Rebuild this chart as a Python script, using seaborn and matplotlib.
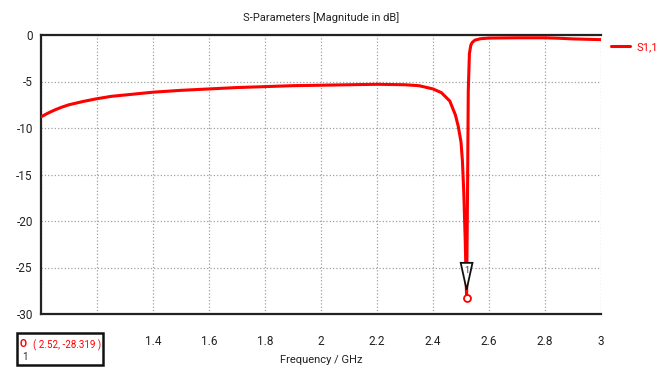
import matplotlib
matplotlib.use("Agg")
import matplotlib.pyplot as plt
import seaborn as sns
import pandas as pd
from matplotlib.patches import Rectangle, Polygon

# ---- data ----
freq = [1.0, 1.025, 1.05, 1.075, 1.1, 1.15, 1.2, 1.25, 1.3, 1.4, 1.5, 1.6, 1.7, 1.8,
        1.9, 2.0, 2.1, 2.2, 2.3, 2.35, 2.4, 2.43, 2.46, 2.48, 2.49, 2.5, 2.505,
        2.51, 2.515, 2.52, 2.523, 2.526, 2.53, 2.535, 2.54, 2.55, 2.57, 2.6, 2.7,
        2.8, 2.85, 2.9, 3.0]
s11 = [-8.8, -8.4, -8.05, -7.75, -7.5, -7.15, -6.85, -6.6, -6.45, -6.15, -5.95, -5.8,
       -5.65, -5.55, -5.45, -5.4, -5.35, -5.3, -5.35, -5.45, -5.8, -6.2, -7.1, -8.6,
       -9.8, -11.5, -13.5, -17.0, -22.0, -28.319, -18.0, -6.0, -2.0, -1.1, -0.8,
       -0.55, -0.4, -0.33, -0.3, -0.3, -0.35, -0.42, -0.5]
marker_freq = 2.52
marker_val = -28.319
xticks = [1.0, 1.2, 1.4, 1.6, 1.8, 2.0, 2.2, 2.4, 2.6, 2.8, 3.0]
xtick_labels = ["", "", "1.4", "1.6", "1.8", "2", "2.2", "2.4", "2.6", "2.8", "3"]
yticks = [-30, -25, -20, -15, -10, -5, 0]
ytick_labels = ["-30", "-25", "-20", "-15", "-10", "-5", "0"]

df = pd.DataFrame({"Frequency": freq, "S1,1": s11})

sns.set_style("white")
plt.rcParams["font.family"] = ["Roboto", "DejaVu Sans"]
plt.rcParams["axes.unicode_minus"] = False

fig = plt.figure(figsize=(6.68, 3.69), dpi=100)
ax = fig.add_axes([41 / 668, 1 - 314 / 369, 560 / 668, 279 / 369])

sns.lineplot(data=df, x="Frequency", y="S1,1", ax=ax, color="#ff0000",
             linewidth=2.2, label="S1,1", zorder=3)

ax.set_xlim(1.0, 3.0)
ax.set_ylim(-30, 0)
ax.set_xticks(xticks)
ax.set_xticklabels(xtick_labels)
ax.set_yticks(yticks)
ax.set_yticklabels(ytick_labels)
ax.grid(True, linestyle=":", color="#a0a0a0", linewidth=0.9)
ax.tick_params(axis="both", direction="out", length=4, width=1, color="#333333",
               labelsize=8.5, pad=2, labelcolor="#222222")
ax.tick_params(axis="x", pad=11)

for side in ["left", "bottom", "top"]:
    ax.spines[side].set_visible(True)
    ax.spines[side].set_color("#222222")
    ax.spines[side].set_linewidth(1.6)
ax.spines["right"].set_visible(False)

ax.set_xlabel("Frequency / GHz", fontsize=8, labelpad=5, color="#222222")
ax.set_ylabel("")
ax.set_title("S-Parameters [Magnitude in dB]", fontsize=8, pad=10, color="#222222")

leg = ax.legend(loc="upper left", bbox_to_anchor=(1.018, 0.975), frameon=False,
                handlelength=1.7, fontsize=8, borderaxespad=0, handletextpad=0.6,
                borderpad=0)
for t in leg.get_texts():
    t.set_color("#ff0000")

# marker triangle with "1" and red circle at the minimum
tri = Polygon([[marker_freq - 0.021, -24.5], [marker_freq + 0.021, -24.5],
               [marker_freq, -27.4]], closed=True, facecolor="white",
              edgecolor="#111111", linewidth=1.3, zorder=5)
ax.add_patch(tri)
ax.text(marker_freq, -25.3, "1", ha="center", va="center", fontsize=6.5, zorder=6,
        color="#333333")
ax.plot([marker_freq], [marker_val], marker="o", markersize=5, markerfacecolor="white",
        markeredgecolor="#ff0000", markeredgewidth=1.3, zorder=6)

# marker readout box below the axes
box = Rectangle((17 / 668, 1 - 365 / 369), 86 / 668, 32 / 369, transform=fig.transFigure,
                facecolor="white", edgecolor="#111111", linewidth=1.8, zorder=10)
fig.add_artist(box)
fig.text(23 / 668, 1 - 344 / 369, "O", color="#ff0000", fontsize=7.5, fontweight="bold",
         ha="center", va="center", zorder=11)
fig.text(25 / 668, 1 - 357 / 369, "1", color="#222222", fontsize=7, ha="center",
         va="center", zorder=11)
fig.text(33 / 668, 1 - 345 / 369, f"( {marker_freq}, {marker_val} )", color="#ff0000",
         fontsize=7, ha="left", va="center", zorder=11)

fig.savefig("out.png", dpi=100)
